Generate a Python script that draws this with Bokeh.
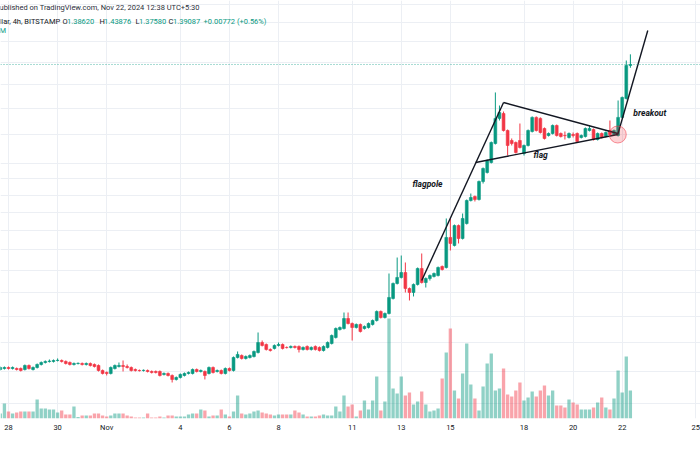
import pandas as pd
from bokeh.plotting import figure
from bokeh.models import (Range1d, LinearScale, FixedTicker, Span, Label, ColumnDataSource)
from bokeh.embed import file_html
from bokeh.resources import INLINE

# ---------------- data (XRP/USD, 4h, Bitstamp) ----------------
start_time = "2024-10-27 16:00"
opens = [0.5032,0.5049,0.5066,0.5049,0.5049,0.5049,0.5032,0.5100,0.5032,0.5066,
 0.5117,0.5151,0.5169,0.5169,0.5186,0.5186,0.5169,0.5151,0.5117,0.5134,
 0.5134,0.5117,0.5134,0.5117,0.5100,0.5016,0.4983,0.4966,0.5049,0.5083,
 0.5100,0.5083,0.5066,0.5032,0.5016,0.5016,0.5016,0.4999,0.4999,0.4999,
 0.4950,0.4966,0.4933,0.4868,0.4900,0.4933,0.4966,0.4966,0.5032,0.4999,
 0.4999,0.4966,0.5066,0.4999,0.5016,0.4966,0.5049,0.5016,0.5238,0.5273,
 0.5221,0.5238,0.5255,0.5326,0.5506,0.5470,0.5380,0.5398,0.5452,0.5470,
 0.5416,0.5416,0.5434,0.5434,0.5380,0.5434,0.5380,0.5434,0.5416,0.5361,
 0.5416,0.5488,0.5599,0.5750,0.5769,0.5965,0.5866,0.5789,0.5847,0.5769,
 0.5789,0.5847,0.5925,0.6106,0.5985,0.6065,0.6377,0.6703,0.6839,0.6953,
 0.6592,0.6505,0.6681,0.7047,0.6725,0.6816,0.6862,0.6885,0.7094,0.7070,
 0.7814,0.7609,0.8131,0.7788,0.8186,0.8839,0.8957,0.8869,0.9417,0.9704,
 1.0033,1.0689,1.1622,1.1814,1.1162,1.0796,1.0724,1.0796,1.0339,1.0618,
 1.1125,1.1661,1.1622,1.1237,1.0978,1.1051,1.1350,1.1051,1.0978,1.0905,
 1.1014,1.1051,1.0905,1.0941,1.1162,1.1200,1.0832,1.1051,1.0941,1.1162,
 1.1014,1.0978,1.1661,1.2419,1.38620]
highs = [0.5083,0.5083,0.5083,0.5083,0.5066,0.5066,0.5117,0.5117,0.5083,0.5134,
 0.5169,0.5186,0.5203,0.5203,0.5221,0.5203,0.5186,0.5169,0.5151,0.5151,
 0.5151,0.5151,0.5151,0.5134,0.5117,0.5032,0.4999,0.5083,0.5117,0.5151,
 0.5186,0.5117,0.5083,0.5049,0.5032,0.5032,0.5032,0.5016,0.5016,0.5016,
 0.4983,0.4983,0.4950,0.4917,0.4966,0.4983,0.4999,0.5049,0.5049,0.5032,
 0.5016,0.5083,0.5083,0.5032,0.5032,0.5066,0.5066,0.5255,0.5344,0.5291,
 0.5273,0.5291,0.5361,0.5693,0.5543,0.5488,0.5398,0.5470,0.5506,0.5488,
 0.5434,0.5452,0.5452,0.5452,0.5434,0.5452,0.5434,0.5452,0.5434,0.5452,
 0.5525,0.5655,0.5789,0.5808,0.6085,0.6085,0.5886,0.5866,0.5866,0.5827,
 0.5886,0.5945,0.6126,0.6126,0.6085,0.6930,0.6725,0.7309,0.7358,0.7189,
 0.6614,0.6703,0.7070,0.7408,0.6839,0.6907,0.6953,0.7094,0.7117,0.8325,
 0.8325,0.8159,0.8159,0.8464,0.8869,0.9047,0.8987,0.9448,0.9867,1.0134,
 1.0760,1.2671,1.2132,1.1892,1.1200,1.0869,1.0760,1.1425,1.0653,1.1200,
 1.1698,1.1698,1.1661,1.1275,1.1088,1.1387,1.1387,1.1088,1.1125,1.1088,
 1.1088,1.1088,1.1014,1.1275,1.1350,1.1237,1.1088,1.1088,1.1125,1.1540,
 1.1200,1.2336,1.2501,1.4095,1.43876]
lows = [0.5016,0.5032,0.5032,0.5032,0.5016,0.4999,0.5016,0.5032,0.5016,0.5049,
 0.5100,0.5134,0.5151,0.5151,0.5169,0.5151,0.5117,0.5100,0.5100,0.5117,
 0.5100,0.5100,0.5083,0.5066,0.4999,0.4950,0.4933,0.4950,0.5032,0.5066,
 0.4999,0.5049,0.4999,0.4999,0.4999,0.4999,0.4983,0.4966,0.4966,0.4917,
 0.4933,0.4917,0.4819,0.4851,0.4884,0.4917,0.4950,0.4950,0.4983,0.4983,
 0.4868,0.4950,0.4966,0.4983,0.4950,0.4950,0.4999,0.4999,0.5221,0.5203,
 0.5203,0.5221,0.5238,0.5308,0.5434,0.5361,0.5344,0.5380,0.5434,0.5380,
 0.5398,0.5398,0.5398,0.5326,0.5361,0.5361,0.5361,0.5361,0.5344,0.5344,
 0.5398,0.5470,0.5580,0.5731,0.5750,0.5847,0.5543,0.5769,0.5693,0.5750,
 0.5769,0.5827,0.5905,0.5965,0.5965,0.6045,0.6355,0.6681,0.6816,0.6505,
 0.6334,0.6419,0.6658,0.6703,0.6614,0.6770,0.6839,0.6862,0.7000,0.7047,
 0.7482,0.7584,0.7660,0.7762,0.8159,0.8810,0.8810,0.8839,0.9354,0.9672,
 1.0000,1.0653,1.1540,1.1125,1.0270,1.0618,1.0339,1.0513,1.0270,1.0583,
 1.1088,1.1125,1.1051,1.0832,1.0941,1.1014,1.0941,1.0905,1.0832,1.0869,
 1.0905,1.0724,1.0869,1.0905,1.1125,1.0796,1.0796,1.0869,1.0905,1.0978,
 1.0978,1.0941,1.1622,1.2377,1.37580]
closes = [0.5066,0.5066,0.5049,0.5066,0.5032,0.5016,0.5100,0.5049,0.5066,0.5117,
 0.5151,0.5169,0.5175,0.5186,0.5189,0.5169,0.5134,0.5117,0.5134,0.5137,
 0.5117,0.5134,0.5100,0.5083,0.5016,0.4966,0.4966,0.5066,0.5100,0.5100,
 0.5083,0.5066,0.5016,0.5016,0.5013,0.5019,0.4999,0.4983,0.4983,0.4933,
 0.4966,0.4933,0.4868,0.4900,0.4950,0.4966,0.4983,0.5032,0.4999,0.5016,
 0.4933,0.5066,0.4983,0.5016,0.4966,0.5049,0.5016,0.5238,0.5291,0.5221,
 0.5255,0.5273,0.5344,0.5506,0.5452,0.5380,0.5361,0.5452,0.5470,0.5398,
 0.5413,0.5434,0.5416,0.5380,0.5416,0.5380,0.5416,0.5380,0.5361,0.5434,
 0.5506,0.5636,0.5769,0.5789,0.5965,0.5866,0.5789,0.5847,0.5712,0.5808,
 0.5866,0.5925,0.6106,0.5985,0.6065,0.6398,0.6703,0.6839,0.6953,0.6592,
 0.6505,0.6681,0.7047,0.6725,0.6816,0.6885,0.6930,0.7070,0.7023,0.7814,
 0.7660,0.8131,0.7788,0.8325,0.8839,0.8928,0.8869,0.9417,0.9835,1.0100,
 1.0724,1.1622,1.1853,1.1162,1.0618,1.0689,1.0373,1.0548,1.0618,1.1162,
 1.1661,1.1162,1.1088,1.0869,1.1051,1.1350,1.0978,1.0941,1.0970,1.1051,
 1.0978,1.0760,1.0978,1.1237,1.1237,1.0832,1.1051,1.0905,1.1088,1.1014,
 1.1162,1.1661,1.2460,1.3862,1.39087]
volumes_m = [5,15,7,5,6,7,7,7,7,19,
 10,10,9,9,6,8,4,4,12,1.5,
 3,3,3,5,5,3,2,3,5,5,
 5,3,2,1,1,1,5,1,1,2,
 1,3,3,2,2,2,4,5,5,9,
 8,2,3,3,9,4,2,7,23,5,
 4,5,7,8,6,5,4,3,4,4,
 4,4,8,6,4,2,2,2,3,4,
 3,3,12,7,23,12,14,2,8,18,
 9,18,42,8,17,100,30,25,42,23,
 26,14,17,27,14,7,8,10,40,66,
 90,28,20,45,75,34,20,8,32,55,
 65,28,30,50,24,22,28,36,18,21,
 27,22,28,33,23,28,13,13,11,19,
 16,14,9,9,9,11,16,21,11,9,
 20,48,26,62,28]

tick_dates = ["2024-10-28","2024-10-30","2024-11-01","2024-11-04","2024-11-06","2024-11-08",
              "2024-11-11","2024-11-13","2024-11-15","2024-11-18","2024-11-20","2024-11-22","2024-11-25"]
tick_labels = ["28","30","Nov","4","6","8","11","13","15","18","20","22","25"]
price_grid = [0.45,0.5,0.55,0.6,0.65,0.7,0.75,0.8,0.85,0.9,0.95,1.0,1.1,1.2,1.3,1.4,1.5,1.6,1.7]
change_text = "+0.00772 (+0.56%)"

# hand-drawn pattern annotations (time, price)
flagpole_t = ["2024-11-13 20:00", "2024-11-17 04:00"]
flagpole_p = [0.6770, 1.2254]
flag_top_t = ["2024-11-17 04:00", "2024-11-21 19:40"]
flag_top_p = [1.2254, 1.1051]
flag_bot_t = ["2024-11-16 00:45", "2024-11-21 19:40"]
flag_bot_p = [1.0033, 1.1014]
breakout_t = ["2024-11-21 19:40", "2024-11-23 01:00"]
breakout_p = [1.1014, 1.5578]
label_texts = ["flagpole", "flag", "breakout"]
label_t = ["2024-11-14 01:40", "2024-11-18 16:20", "2024-11-23 03:00"]
label_p = [0.9354, 1.0270, 1.1814]

# ---------------- helpers ----------------
origin = pd.Timestamp("2024-09-30")
def to_day(ts):
    return (pd.to_datetime(ts) - origin) / pd.Timedelta(days=1)

times = pd.date_range(start_time, periods=len(opens), freq="4h")
t = list(to_day(times))
UP, DOWN = "#089981", "#f23645"
INK = "#131722"
colors = [UP if c >= o else DOWN for o, c in zip(opens, closes)]
src = ColumnDataSource(dict(t=t, o=opens, h=highs, l=lows, c=closes, col=colors, v=volumes_m))

p = figure(width=700, height=450, x_range=Range1d(27.674, 56.19), y_range=Range1d(0.4274, 1.7216),
           y_axis_type="log", y_axis_location=None, output_backend="svg", toolbar_location=None,
           min_border_left=0, min_border_right=0, min_border_top=0, min_border_bottom=32)
p.outline_line_color = None
p.background_fill_color = "white"
p.border_fill_color = "white"

tick_days = [float(to_day(d)) for d in tick_dates]
p.xaxis.ticker = FixedTicker(ticks=tick_days)
p.xaxis.major_label_overrides = {d: lab for d, lab in zip(tick_days, tick_labels)}
p.xaxis.axis_line_color = None
p.xaxis.major_tick_line_color = None
p.xaxis.minor_tick_line_color = None
p.xaxis.major_tick_out = 0
p.xaxis.major_tick_in = 0
p.xaxis.major_label_text_font_size = "7.5px"
p.xaxis.major_label_text_font = "Roboto"
p.xaxis.major_label_text_color = INK
p.xaxis.major_label_standoff = 4
p.xgrid.grid_line_color = "#eceff4"
p.ygrid.ticker = FixedTicker(ticks=price_grid)
p.ygrid.grid_line_color = "#eceff4"

# volume overlay
p.extra_y_ranges = {"vol": Range1d(0, 418)}
p.extra_y_scales = {"vol": LinearScale()}
p.vbar(x="t", width=0.135, top="v", bottom=0, y_range_name="vol", source=src,
       fill_color="col", fill_alpha=0.45, line_color=None)

# candles
p.segment(x0="t", y0="l", x1="t", y1="h", line_color="col", line_width=1, source=src)
p.vbar(x="t", width=0.115, top="o", bottom="c", fill_color="col", line_color="col", line_width=0.6, source=src)

# last price line
p.add_layout(Span(location=closes[-1], dimension="width", line_color=UP, line_alpha=0.7,
                  line_dash="1 2", line_width=1))

# pattern drawing
for tt, pp in [(flagpole_t, flagpole_p), (flag_top_t, flag_top_p), (flag_bot_t, flag_bot_p), (breakout_t, breakout_p)]:
    p.line(x=[float(to_day(x)) for x in tt], y=pp, line_color=INK, line_width=1.4)
p.scatter(x=[float(to_day(flag_bot_t[1]))], y=[flag_bot_p[1]], size=17, marker="circle",
          fill_color=DOWN, fill_alpha=0.22, line_color=DOWN, line_alpha=0.55, line_width=1)
for txt, tt, pp in zip(label_texts, label_t, label_p):
    p.add_layout(Label(x=float(to_day(tt)), y=pp, text=txt, text_align="center", text_baseline="middle",
                       text_font="Roboto", text_font_style="bold italic", text_font_size="8.5px",
                       text_color=INK))

# header texts (screen units, from frame bottom)
FH = 418
def hdr(txt, x, y_img, color, size="7.5px", style="normal"):
    p.add_layout(Label(x=x, y=FH - y_img, x_units="screen", y_units="screen", text=txt,
                       text_baseline="middle", text_align="left", text_font="Roboto",
                       text_font_size=size, text_color=color, text_font_style=style))

hdr("ublished on TradingView.com, Nov 22, 2024 12:38 UTC+5:30", -1, 7, "#2a2e39")
hdr("llar, 4h, BITSTAMP", -1, 21, INK)
for letter, val, xl, xv in [("O", opens[-1], 62, 66.5), ("H", highs[-1], 99, 103.5),
                            ("L", lows[-1], 135, 138.5), ("C", closes[-1], 168, 172.5)]:
    hdr(letter, xl, 21, INK)
    hdr(f"{val:.5f}", xv, 21, UP)
hdr(change_text, 203, 21, UP)
hdr("M", -1, 30, UP)

open("out.html", "w").write(file_html(p, INLINE))
